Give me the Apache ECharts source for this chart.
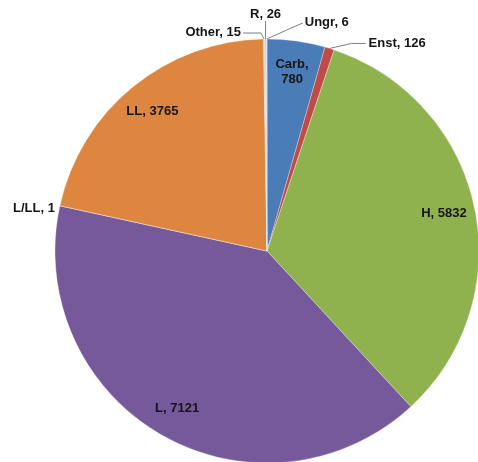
<!DOCTYPE html>
<html>
<head>
<meta charset="utf-8">
<style>
  html, body { margin: 0; padding: 0; background: #ffffff; }
  #chart { width: 478px; height: 462px; }
</style>
<script src="https://cdn.jsdelivr.net/npm/echarts@6/dist/echarts.min.js"></script>
</head>
<body>
<div id="chart"></div>
<script>
// Meteorite classes, clockwise from 12 o'clock
const categories = ['Carb', 'Enst', 'H', 'L', 'L/LL', 'LL', 'Other', 'R', 'Ungr'];
const counts = [780, 126, 5832, 7121, 1, 3765, 15, 26, 6];
const sliceColors = ['#4a7cb8', '#bf4a46', '#8fb24f', '#76599a', '#4bacc6', '#de8640', '#b8b8b8', '#d4d4d4', '#9aa9c8'];

// Classes labelled inside their slice, and those labelled outside with a leader line
const insideLabels = ['Carb', 'H', 'L', 'LL'];
const outsideLabels = ['Enst', 'L/LL', 'Other', 'R', 'Ungr'];

// Placement of outside labels relative to the slice's edge point
const outsidePlacement = {
  'Other': { dx: -23, dy: -7, align: 'right', bend: [[-3, -6], [-21, -6]] },
  'R':     { dx: 0, dy: -25, align: 'center', bend: [[0, -18], [0, -18]] },
  'Ungr':  { dx: 38, dy: -17, align: 'left', bend: [[20, -9], [36, -16]] },
  'Enst':  { dx: 39, dy: -5, align: 'left', bend: [[22, -5], [36, -5]] },
  'L/LL':  { dx: -5, dy: 3, align: 'right', bend: [[0, 0], [0, 0]] }
};

const font = { fontFamily: 'Liberation Sans, Arial, sans-serif', fontWeight: 'bold', fontSize: 13, color: '#151515' };

const center = [267, 251];
const outerRadius = 212;

const baseData = categories.map((name, i) => ({
  name,
  value: counts[i],
  itemStyle: { color: sliceColors[i] },
  label: { show: outsideLabels.includes(name) }
}));

const labelData = categories.map((name, i) => ({
  name,
  value: counts[i],
  label: {
    show: insideLabels.includes(name),
    formatter: name === 'Carb' ? '{b},\n{c}' : '{b}, {c}'
  }
}));

const chart = echarts.init(document.getElementById('chart'), null, { renderer: 'canvas' });

chart.setOption({
  backgroundColor: '#ffffff',
  animation: false,
  series: [
    {
      type: 'pie',
      center,
      radius: [0, outerRadius],
      startAngle: 90,
      clockwise: true,
      avoidLabelOverlap: false,
      silent: true,
      data: baseData,
      itemStyle: { borderColor: 'rgba(255,255,255,0.6)', borderWidth: 0.5 },
      label: Object.assign({ position: 'outside', formatter: '{b}, {c}' }, font),
      labelLine: { show: true, length: 10, length2: 10, lineStyle: { color: '#7f7f7f', width: 1 } },
      labelLayout: function (params) {
        const place = outsidePlacement[categories[params.dataIndex]];
        const pts = params.labelLinePoints;
        if (!place || !pts) return {};
        const a = pts[0];
        return {
          x: a[0] + place.dx,
          y: a[1] + place.dy,
          align: place.align,
          verticalAlign: 'middle',
          labelLinePoints: [
            [a[0], a[1]],
            [a[0] + place.bend[0][0], a[1] + place.bend[0][1]],
            [a[0] + place.bend[1][0], a[1] + place.bend[1][1]]
          ]
        };
      }
    },
    {
      type: 'pie',
      center,
      radius: [144, outerRadius],
      startAngle: 90,
      clockwise: true,
      silent: true,
      data: labelData,
      itemStyle: { color: 'rgba(0,0,0,0)' },
      label: Object.assign({ position: 'inside', lineHeight: 15, align: 'center' }, font),
      labelLine: { show: false },
      emphasis: { disabled: true }
    }
  ]
});
</script>
</body>
</html>
